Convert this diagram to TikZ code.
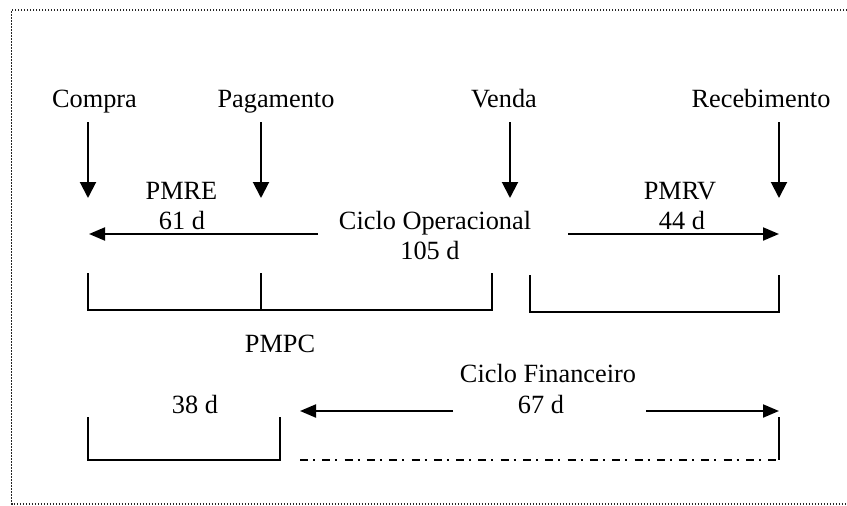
\documentclass[tikz,border=0pt]{standalone}
\usepackage{fontspec}
\setmainfont{Liberation Serif}
\usetikzlibrary{arrows.meta}
\begin{document}
\begin{tikzpicture}[x=1pt,y=-1pt,
  lbl/.style={inner sep=0pt, anchor=base, font=\fontsize{26.3}{30}\selectfont},
  downarr/.style={line width=2pt, -{Triangle[width=16pt,length=16pt]}},
  spanarr/.style={line width=2pt, -{Triangle[width=13pt,length=16pt]}},
  brk/.style={line width=1.5pt},
  frame/.style={line width=1.2pt, dash pattern=on 1.2pt off 1.8pt, black!85},
  dashdot/.style={line width=1.6pt, dash pattern=on 8pt off 5pt on 2pt off 7.3pt}]

\useasboundingbox (0,0) rectangle (847,506);

% dotted frame (open on the right)
\draw[frame] (847,10) -- (11.5,10) -- (11.5,504) -- (847,504);

% events
\node[lbl] (compra)      at (94.5,107) {Compra};
\node[lbl] (pagamento)   at (276,107)  {Pagamento};
\node[lbl] (venda)       at (504,107)  {Venda};
\node[lbl] (recebimento) at (761,107)  {Recebimento};

% time marks under each event
\coordinate (cTop) at (88,122);  \coordinate (cEnd) at (88,198);
\coordinate (pTop) at (261,122); \coordinate (pEnd) at (261,198);
\coordinate (vTop) at (510,122); \coordinate (vEnd) at (510,198);
\coordinate (rTop) at (779,122); \coordinate (rEnd) at (779,198);
\draw[downarr] (cTop) -- (cEnd);
\draw[downarr] (pTop) -- (pEnd);
\draw[downarr] (vTop) -- (vEnd);
\draw[downarr] (rTop) -- (rEnd);

% operating cycle
\node[lbl] (pmre)     at (181.5,199) {PMRE};
\node[lbl] (pmreD)    at (182,229)   {61 d};
\node[lbl] (ciclOp)   at (435,229)   {Ciclo Operacional};
\node[lbl] (ciclOpD)  at (430,259)   {105 d};
\node[lbl] (pmrv)     at (680,199)   {PMRV};
\node[lbl] (pmrvD)    at (682,229)   {44 d};

\coordinate (opL0) at (318,234); \coordinate (opL1) at (89,234);
\coordinate (opR0) at (568,234); \coordinate (opR1) at (779,234);
\draw[spanarr] (opL0) -- (opL1);
\draw[spanarr] (opR0) -- (opR1);

% brackets of the first row
\draw[brk] (88,273) -- (88,310) -- (492,310) -- (492,273);
\draw[brk] (261,273) -- (261,310);
\draw[brk] (530,275) -- (530,312) -- (779,312) -- (779,275);

\node[lbl] (pmpc) at (280,352) {PMPC};

% financial cycle
\node[lbl] (ciclFin)  at (548,382) {Ciclo Financeiro};
\node[lbl] (ciclFinD) at (541,413) {67 d};
\node[lbl] (pmpcD)    at (195,413) {38 d};

\coordinate (fnL0) at (453,411); \coordinate (fnL1) at (300,411);
\coordinate (fnR0) at (646,411); \coordinate (fnR1) at (779,411);
\draw[spanarr] (fnL0) -- (fnL1);
\draw[spanarr] (fnR0) -- (fnR1);

% brackets of the second row
\draw[brk] (88,417) -- (88,460) -- (280,460) -- (280,417);
\draw[dashdot] (300,460) -- (779,460);
\draw[brk] (779,417) -- (779,460);

\end{tikzpicture}
\end{document}
